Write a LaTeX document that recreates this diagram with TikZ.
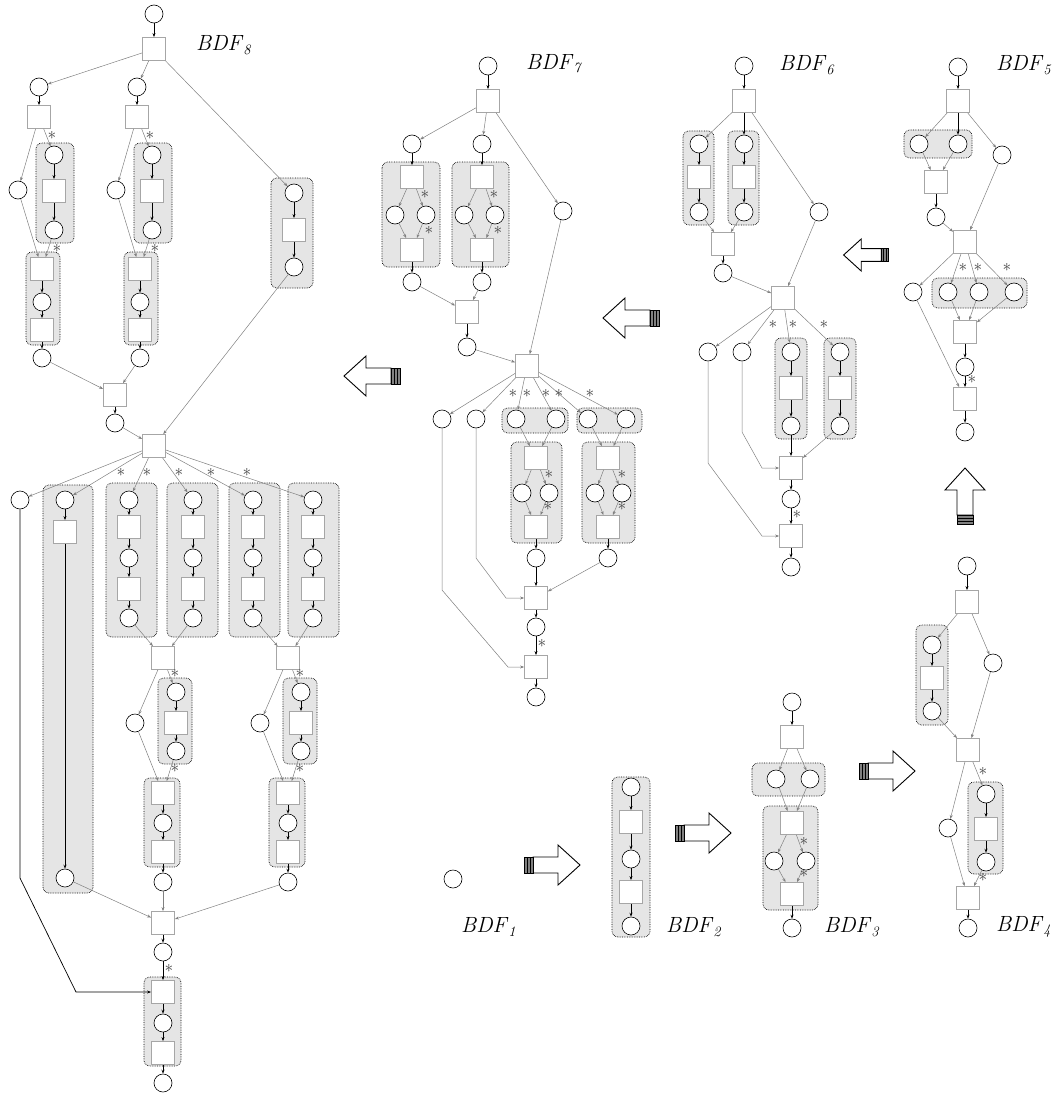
\documentclass[tikz,border=0pt]{standalone}
\usetikzlibrary{arrows.meta}
\tikzset{
  pl/.style={circle, draw=black, line width=0.6pt, fill=white, minimum size=18pt, inner sep=0pt},
  tr/.style={rectangle, draw=gray!70, line width=0.8pt, fill=white, minimum size=23pt, inner sep=0pt},
  grp/.style={draw=black, densely dotted, line width=0.7pt, fill=gray!20, rounded corners=6pt},
  ar/.style={draw=gray, line width=0.5pt, -{Stealth[length=4pt,width=3pt]}},
  bar/.style={draw=black, line width=0.7pt, -{Stealth[length=4pt,width=3pt]}},
  ast/.style={text=gray!50!black, font=\LARGE, inner sep=0pt},
  lbl/.style={anchor=west, font=\fontsize{22}{24}\selectfont, inner sep=0pt},
  fatarrow/.pic={
    \draw[fill=white, line width=0.9pt] (-19,-8) -- (6,-8) -- (6,-20) -- (28,0) -- (6,20) -- (6,8) -- (-19,8) -- cycle;
    \draw[fill=gray, line width=0.6pt] (-28,-8) rectangle (-25,8) (-25,-8) rectangle (-22,8) (-22,-8) rectangle (-19,8);
  }
}
\begin{document}
\begin{tikzpicture}[x=1pt, y=-1pt]
\useasboundingbox (0,0) rectangle (1058,1097);

% BDF1
\node[pl] (p1) at (453,879) {};
\node[lbl] (n1) at (461,927) {\textit{BDF}$_{\mathit{1}}$};
\pic (a1) at (552,865) {fatarrow};

% BDF2
\draw[grp] (612,777) rectangle (650,937);
\node[pl] (p2a) at (631,787) {};
\node[tr] (t2a) at (631,822) {};
\node[pl] (p2b) at (631,859) {};
\node[tr] (t2b) at (631,892) {};
\node[pl] (p2c) at (631,926) {};
\path (p2a) edge[bar] (t2a) (t2a) edge[bar] (p2b) (p2b) edge[bar] (t2b) (t2b) edge[bar] (p2c);
\node[lbl] (n2) at (666,927) {\textit{BDF}$_{\mathit{2}}$};
\pic (a2) at (703,833) {fatarrow};

% BDF3
\draw[grp] (752,763) rectangle (825,796);
\draw[grp] (763,806) rectangle (818,910);
\node[pl] (p3a) at (792,702) {};
\node[tr] (t3a) at (792,737) {};
\node[pl] (p3b) at (776,779) {};
\node[pl] (p3c) at (810,779) {};
\node[tr] (t3b) at (792,823) {};
\node[pl] (p3d) at (774,861) {};
\node[pl] (p3e) at (806,861) {};
\node[tr] (t3c) at (792,894) {};
\node[pl] (p3f) at (792,928) {};
\path (p3a) edge[bar] (t3a) (t3a) edge[ar] (p3b) (t3a) edge[ar] (p3c)
      (p3b) edge[ar] (t3b) (p3c) edge[ar] (t3b) (t3b) edge[ar] (p3d) (t3b) edge[ar] (p3e)
      (p3d) edge[ar] (t3c) (p3e) edge[ar] (t3c) (t3c) edge[bar] (p3f);
\node[ast] (s3a) at (804,841) {$\ast$};
\node[ast] (s3b) at (804,873) {$\ast$};
\node[lbl] (n3) at (824,927) {\textit{BDF}$_{\mathit{3}}$};
\pic (a3) at (887,771) {fatarrow};

% BDF4
\draw[grp] (916,625) rectangle (948,725);
\draw[grp] (968,782) rectangle (1003,874);
\node[pl] (p4a) at (967,566) {};
\node[tr] (t4a) at (967,602) {};
\node[pl] (p4b) at (932,645) {};
\node[tr] (t4b) at (932,678) {};
\node[pl] (p4c) at (932,711) {};
\node[pl] (p4d) at (993,663) {};
\node[tr] (t4c) at (968,750) {};
\node[pl] (p4e) at (948,828) {};
\node[pl] (p4f) at (986,794) {};
\node[tr] (t4d) at (986,829) {};
\node[pl] (p4g) at (986,862) {};
\node[tr] (t4e) at (968,898) {};
\node[pl] (p4h) at (968,928) {};
\path (p4a) edge[bar] (t4a) (t4a) edge[ar] (p4b) (t4a) edge[ar] (p4d)
      (p4b) edge[bar] (t4b) (t4b) edge[bar] (p4c) (p4c) edge[ar] (t4c) (p4d) edge[ar] (t4c)
      (t4c) edge[ar] (p4e) (t4c) edge[ar] (p4f) (p4f) edge[bar] (t4d) (t4d) edge[bar] (p4g)
      (p4g) edge[ar] (t4e) (p4e) edge[ar] (t4e) (t4e) edge[bar] (p4h);
\node[ast] (s4a) at (983,771) {$\ast$};
\node[ast] (s4b) at (983,877) {$\ast$};
\node[lbl] (n4) at (996,927) {\textit{BDF}$_{\mathit{4}}$};
\pic[rotate=90] (a4) at (965,496) {fatarrow};

% BDF5
\draw[grp] (904,130) rectangle (972,158);
\draw[grp] (932,278) rectangle (1027,308);
\node[pl] (p5a) at (958,67) {};
\node[tr] (t5a) at (958,101) {};
\node[pl] (p5b) at (919,144) {};
\node[pl] (p5c) at (958,144) {};
\node[pl] (p5d) at (1002,155) {};
\node[tr] (t5b) at (936,182) {};
\node[pl] (p5e) at (936,217) {};
\node[tr] (t5c) at (965,242) {};
\node[pl] (p5f) at (913,292) {};
\node[pl] (p5g) at (948,292) {};
\node[pl] (p5h) at (979,292) {};
\node[pl] (p5i) at (1014,292) {};
\node[tr] (t5d) at (965,332) {};
\node[pl] (p5j) at (965,367) {};
\node[tr] (t5e) at (965,399) {};
\node[pl] (p5k) at (965,432) {};
\path (p5a) edge[bar] (t5a) (t5a) edge[ar] (p5b) (t5a) edge[bar] (p5c) (t5a) edge[ar] (p5d)
      (p5b) edge[ar] (t5b) (p5c) edge[ar] (t5b) (t5b) edge[bar] (p5e)
      (p5e) edge[ar] (t5c) (p5d) edge[ar] (t5c)
      (t5c) edge[ar] (p5f) (t5c) edge[ar] (p5g) (t5c) edge[ar] (p5h) (t5c) edge[ar] (p5i)
      (p5g) edge[ar] (t5d) (p5h) edge[ar] (t5d) (p5i) edge[ar] (t5d) (t5d) edge[bar] (p5j)
      (p5j) edge[bar] (t5e) (p5f) edge[ar] (t5e) (t5e) edge[bar] (p5k);
\node[ast] (s5a) at (963,267) {$\ast$};
\node[ast] (s5b) at (978,267) {$\ast$};
\node[ast] (s5c) at (1007,267) {$\ast$};
\node[ast] (s5d) at (972,379) {$\ast$};
\node[lbl] (n5) at (996,65) {\textit{BDF}$_{\mathit{5}}$};
\pic[rotate=180, scale=0.8] (a5) at (866,255) {fatarrow};

% BDF6
\draw[grp] (683,131) rectangle (714,225);
\draw[grp] (728,131) rectangle (759,225);
\draw[grp] (775,338) rectangle (807,439);
\draw[grp] (824,338) rectangle (856,439);
\node[pl] (p6a) at (744,66) {};
\node[tr] (t6a) at (744,101) {};
\node[pl] (p6b) at (699,144) {};
\node[tr] (t6b) at (699,177) {};
\node[pl] (p6c) at (699,212) {};
\node[pl] (p6d) at (744,144) {};
\node[tr] (t6c) at (744,177) {};
\node[pl] (p6e) at (744,212) {};
\node[pl] (p6f) at (819,212) {};
\node[tr] (t6d) at (723,244) {};
\node[pl] (p6g) at (723,273) {};
\node[tr] (t6e) at (783,298) {};
\node[pl] (p6h) at (708,352) {};
\node[pl] (p6i) at (742,352) {};
\node[pl] (p6j) at (791,352) {};
\node[tr] (t6f) at (791,388) {};
\node[pl] (p6k) at (791,426) {};
\node[pl] (p6l) at (840,352) {};
\node[tr] (t6g) at (840,388) {};
\node[pl] (p6m) at (840,426) {};
\node[tr] (t6h) at (791,468) {};
\node[pl] (p6n) at (791,499) {};
\node[tr] (t6i) at (791,536) {};
\node[pl] (p6o) at (791,567) {};
\path (p6a) edge[bar] (t6a) (t6a) edge[ar] (p6b) (t6a) edge[bar] (p6d) (t6a) edge[ar] (p6f)
      (p6b) edge[bar] (t6b) (t6b) edge[bar] (p6c) (p6d) edge[bar] (t6c) (t6c) edge[bar] (p6e)
      (p6c) edge[ar] (t6d) (p6e) edge[ar] (t6d) (t6d) edge[bar] (p6g)
      (p6g) edge[ar] (t6e) (p6f) edge[ar] (t6e)
      (t6e) edge[ar] (p6h) (t6e) edge[ar] (p6i) (t6e) edge[ar] (p6j) (t6e) edge[ar] (p6l)
      (p6j) edge[bar] (t6f) (t6f) edge[bar] (p6k) (p6l) edge[bar] (t6g) (t6g) edge[bar] (p6m)
      (p6k) edge[bar] (t6h) (p6m) edge[ar] (t6h) (t6h) edge[bar] (p6n)
      (p6n) edge[bar] (t6i) (t6i) edge[bar] (p6o);
\draw[ar] (p6h) -- (708,463) -- (762,536) -- (t6i);
\draw[ar] (p6i) -- (742,432) -- (762,468) -- (t6h);
\node[ast] (s6a) at (773,324) {$\ast$};
\node[ast] (s6b) at (793,324) {$\ast$};
\node[ast] (s6c) at (824,324) {$\ast$};
\node[ast] (s6d) at (797,514) {$\ast$};
\node[lbl] (n6) at (779,65) {\textit{BDF}$_{\mathit{6}}$};
\pic[rotate=180] (a6) at (631,318) {fatarrow};

% BDF7
\draw[grp] (382,162) rectangle (440,267);
\draw[grp] (452,162) rectangle (509,267);
\draw[grp] (502,408) rectangle (568,433);
\draw[grp] (577,408) rectangle (642,433);
\draw[grp] (511,442) rectangle (562,543);
\draw[grp] (582,442) rectangle (635,543);
\node[pl] (p7a) at (488,66) {};
\node[tr] (t7a) at (488,101) {};
\node[pl] (p7b) at (412,144) {};
\node[pl] (p7c) at (482,144) {};
\node[pl] (p7d) at (563,211) {};
\node[tr] (t7b) at (412,177) {};
\node[pl] (p7e) at (395,215) {};
\node[pl] (p7f) at (426,215) {};
\node[tr] (t7c) at (412,250) {};
\node[pl] (p7g) at (412,282) {};
\node[tr] (t7d) at (482,177) {};
\node[pl] (p7h) at (464,215) {};
\node[pl] (p7i) at (495,215) {};
\node[tr] (t7e) at (482,250) {};
\node[pl] (p7j) at (482,282) {};
\node[tr] (t7f) at (467,312) {};
\node[pl] (p7k) at (467,347) {};
\node[tr] (t7g) at (527,366) {};
\node[pl] (p7l) at (442,419) {};
\node[pl] (p7m) at (476,419) {};
\node[pl] (p7n) at (516,419) {};
\node[pl] (p7o) at (556,419) {};
\node[pl] (p7p) at (588,419) {};
\node[pl] (p7q) at (626,419) {};
\node[tr] (t7h) at (536,458) {};
\node[pl] (p7r) at (522,493) {};
\node[pl] (p7s) at (549,493) {};
\node[tr] (t7i) at (536,527) {};
\node[pl] (p7t) at (536,558) {};
\node[tr] (t7j) at (608,458) {};
\node[pl] (p7u) at (595,493) {};
\node[pl] (p7v) at (622,493) {};
\node[tr] (t7k) at (608,527) {};
\node[pl] (p7w) at (608,558) {};
\node[tr] (t7l) at (536,598) {};
\node[pl] (p7x) at (536,627) {};
\node[tr] (t7m) at (536,667) {};
\node[pl] (p7y) at (536,697) {};
\path (p7a) edge[bar] (t7a) (t7a) edge[ar] (p7b) (t7a) edge[ar] (p7c) (t7a) edge[ar] (p7d)
      (p7b) edge[bar] (t7b) (t7b) edge[ar] (p7e) (t7b) edge[ar] (p7f)
      (p7e) edge[ar] (t7c) (p7f) edge[ar] (t7c) (t7c) edge[bar] (p7g)
      (p7c) edge[bar] (t7d) (t7d) edge[ar] (p7h) (t7d) edge[ar] (p7i)
      (p7h) edge[ar] (t7e) (p7i) edge[ar] (t7e) (t7e) edge[bar] (p7j)
      (p7g) edge[ar] (t7f) (p7j) edge[ar] (t7f) (t7f) edge[bar] (p7k)
      (p7k) edge[ar] (t7g) (p7d) edge[ar] (t7g)
      (t7g) edge[ar] (p7l) (t7g) edge[ar] (p7m) (t7g) edge[ar] (p7n)
      (t7g) edge[ar] (p7o) (t7g) edge[ar] (p7p) (t7g) edge[ar] (p7q)
      (p7n) edge[ar] (t7h) (p7o) edge[ar] (t7h) (t7h) edge[ar] (p7r) (t7h) edge[ar] (p7s)
      (p7r) edge[ar] (t7i) (p7s) edge[ar] (t7i) (t7i) edge[bar] (p7t)
      (p7p) edge[ar] (t7j) (p7q) edge[ar] (t7j) (t7j) edge[ar] (p7u) (t7j) edge[ar] (p7v)
      (p7u) edge[ar] (t7k) (p7v) edge[ar] (t7k) (t7k) edge[bar] (p7w)
      (p7t) edge[bar] (t7l) (p7w) edge[ar] (t7l) (t7l) edge[bar] (p7x)
      (p7x) edge[bar] (t7m) (t7m) edge[bar] (p7y);
\draw[ar] (p7l) -- (442,590) -- (508,667) -- (t7m);
\draw[ar] (p7m) -- (476,558) -- (506,598) -- (t7l);
\node[ast] (s7a) at (425,194) {$\ast$};
\node[ast] (s7b) at (429,230) {$\ast$};
\node[ast] (s7c) at (494,194) {$\ast$};
\node[ast] (s7d) at (498,230) {$\ast$};
\node[ast] (s7e) at (513,393) {$\ast$};
\node[ast] (s7f) at (527,393) {$\ast$};
\node[ast] (s7g) at (546,393) {$\ast$};
\node[ast] (s7h) at (559,393) {$\ast$};
\node[ast] (s7i) at (590,393) {$\ast$};
\node[ast] (s7j) at (549,474) {$\ast$};
\node[ast] (s7k) at (548,506) {$\ast$};
\node[ast] (s7l) at (622,474) {$\ast$};
\node[ast] (s7m) at (622,506) {$\ast$};
\node[ast] (s7n) at (542,643) {$\ast$};
\node[lbl] (n7) at (526,65) {\textit{BDF}$_{\mathit{7}}$};
\pic[rotate=180] (a7) at (372,376) {fatarrow};

% BDF8
\draw[grp] (36,143) rectangle (74,243);
\draw[grp] (26,252) rectangle (60,345);
\draw[grp] (134,143) rectangle (172,243);
\draw[grp] (124,252) rectangle (158,345);
\draw[grp] (271,178) rectangle (313,288);
\draw[grp] (43,485) rectangle (93,893);
\draw[grp] (106,483) rectangle (157,637);
\draw[grp] (167,483) rectangle (218,637);
\draw[grp] (229,483) rectangle (280,637);
\draw[grp] (288,483) rectangle (339,637);
\draw[grp] (158,678) rectangle (192,764);
\draw[grp] (144,778) rectangle (180,867);
\draw[grp] (283,678) rectangle (317,764);
\draw[grp] (269,778) rectangle (305,867);
\draw[grp] (144,977) rectangle (181,1066);
\node[pl] (p8a) at (154,14) {};
\node[tr] (t8a) at (154,49) {};
\node[pl] (p8b) at (39,87) {};
\node[pl] (p8c) at (137,87) {};
\node[tr] (t8b) at (39,117) {};
\node[tr] (t8c) at (137,117) {};
\node[pl] (p8d) at (18,190) {};
\node[pl] (p8e) at (54,155) {};
\node[tr] (t8d) at (54,191) {};
\node[pl] (p8f) at (54,230) {};
\node[tr] (t8e) at (42,269) {};
\node[pl] (p8g) at (42,302) {};
\node[tr] (t8f) at (42,330) {};
\node[pl] (p8h) at (42,358) {};
\node[pl] (p8i) at (116,190) {};
\node[pl] (p8j) at (152,155) {};
\node[tr] (t8g) at (152,191) {};
\node[pl] (p8k) at (152,230) {};
\node[tr] (t8h) at (140,269) {};
\node[pl] (p8l) at (140,302) {};
\node[tr] (t8i) at (140,330) {};
\node[pl] (p8m) at (140,358) {};
\node[pl] (p8n) at (294,193) {};
\node[tr] (t8j) at (294,230) {};
\node[pl] (p8o) at (294,267) {};
\node[tr] (t8k) at (115,395) {};
\node[pl] (p8p) at (115,423) {};
\node[tr] (t8l) at (154,446) {};
\node[pl] (p8q) at (20,500) {};
\node[pl] (p8r) at (65,500) {};
\node[tr] (t8m) at (65,532) {};
\node[pl] (p8s) at (65,878) {};
\node[pl] (c1a) at (129,500) {};
\node[tr] (c1b) at (129,527) {};
\node[pl] (c1c) at (129,558) {};
\node[tr] (c1d) at (129,589) {};
\node[pl] (c1e) at (129,618) {};
\node[pl] (c2a) at (193,500) {};
\node[tr] (c2b) at (193,527) {};
\node[pl] (c2c) at (193,558) {};
\node[tr] (c2d) at (193,589) {};
\node[pl] (c2e) at (193,618) {};
\node[pl] (c3a) at (253,500) {};
\node[tr] (c3b) at (253,527) {};
\node[pl] (c3c) at (253,558) {};
\node[tr] (c3d) at (253,589) {};
\node[pl] (c3e) at (253,618) {};
\node[pl] (c4a) at (313,500) {};
\node[tr] (c4b) at (313,527) {};
\node[pl] (c4c) at (313,558) {};
\node[tr] (c4d) at (313,589) {};
\node[pl] (c4e) at (313,618) {};
\node[tr] (t8n) at (163,658) {};
\node[tr] (t8o) at (288,658) {};
\node[pl] (p8u) at (135,723) {};
\node[pl] (p8v) at (176,692) {};
\node[tr] (t8p) at (176,723) {};
\node[pl] (p8w) at (176,751) {};
\node[tr] (t8q) at (163,793) {};
\node[pl] (p8x) at (163,823) {};
\node[tr] (t8r) at (163,852) {};
\node[pl] (p8y) at (163,882) {};
\node[pl] (p8z) at (260,723) {};
\node[pl] (q8a) at (301,692) {};
\node[tr] (t8s) at (301,723) {};
\node[pl] (q8b) at (301,751) {};
\node[tr] (t8t) at (288,793) {};
\node[pl] (q8c) at (288,823) {};
\node[tr] (t8u) at (288,852) {};
\node[pl] (q8d) at (288,882) {};
\node[tr] (t8v) at (163,923) {};
\node[pl] (q8e) at (163,952) {};
\node[tr] (t8w) at (163,992) {};
\node[pl] (q8f) at (163,1023) {};
\node[tr] (t8x) at (163,1053) {};
\node[pl] (q8g) at (163,1083) {};
\path (p8a) edge[bar] (t8a) (t8a) edge[ar] (p8b) (t8a) edge[ar] (p8c) (t8a) edge[ar] (p8n)
      (p8b) edge[bar] (t8b) (t8b) edge[ar] (p8d) (t8b) edge[ar] (p8e)
      (p8e) edge[bar] (t8d) (t8d) edge[bar] (p8f) (p8f) edge[ar] (t8e) (p8d) edge[ar] (t8e)
      (t8e) edge[bar] (p8g) (p8g) edge[bar] (t8f) (t8f) edge[bar] (p8h)
      (p8c) edge[bar] (t8c) (t8c) edge[ar] (p8i) (t8c) edge[ar] (p8j)
      (p8j) edge[bar] (t8g) (t8g) edge[bar] (p8k) (p8k) edge[ar] (t8h) (p8i) edge[ar] (t8h)
      (t8h) edge[bar] (p8l) (p8l) edge[bar] (t8i) (t8i) edge[bar] (p8m)
      (p8n) edge[bar] (t8j) (t8j) edge[bar] (p8o)
      (p8h) edge[ar] (t8k) (p8m) edge[ar] (t8k) (t8k) edge[bar] (p8p)
      (p8p) edge[ar] (t8l) (p8o) edge[ar] (t8l)
      (t8l) edge[ar] (p8q) (t8l) edge[ar] (p8r) (t8l) edge[ar] (c1a)
      (t8l) edge[ar] (c2a) (t8l) edge[ar] (c3a) (t8l) edge[ar] (c4a)
      (p8r) edge[bar] (t8m) (t8m) edge[bar] (p8s)
      (c1a) edge[bar] (c1b) (c1b) edge[bar] (c1c) (c1c) edge[bar] (c1d) (c1d) edge[bar] (c1e)
      (c2a) edge[bar] (c2b) (c2b) edge[bar] (c2c) (c2c) edge[bar] (c2d) (c2d) edge[bar] (c2e)
      (c3a) edge[bar] (c3b) (c3b) edge[bar] (c3c) (c3c) edge[bar] (c3d) (c3d) edge[bar] (c3e)
      (c4a) edge[bar] (c4b) (c4b) edge[bar] (c4c) (c4c) edge[bar] (c4d) (c4d) edge[bar] (c4e)
      (c1e) edge[ar] (t8n) (c2e) edge[ar] (t8n) (c3e) edge[ar] (t8o) (c4e) edge[ar] (t8o)
      (t8n) edge[ar] (p8u) (t8n) edge[ar] (p8v) (p8v) edge[bar] (t8p) (t8p) edge[bar] (p8w)
      (p8w) edge[ar] (t8q) (p8u) edge[ar] (t8q)
      (t8q) edge[bar] (p8x) (p8x) edge[bar] (t8r) (t8r) edge[bar] (p8y)
      (t8o) edge[ar] (p8z) (t8o) edge[ar] (q8a) (q8a) edge[bar] (t8s) (t8s) edge[bar] (q8b)
      (q8b) edge[ar] (t8t) (p8z) edge[ar] (t8t)
      (t8t) edge[bar] (q8c) (q8c) edge[bar] (t8u) (t8u) edge[bar] (q8d)
      (p8s) edge[ar] (t8v) (p8y) edge[ar] (t8v) (q8d) edge[ar] (t8v)
      (t8v) edge[bar] (q8e) (q8e) edge[bar] (t8w) (t8w) edge[bar] (q8f)
      (q8f) edge[bar] (t8x) (t8x) edge[bar] (q8g);
\draw[bar] (p8q) -- (20,878) -- (76,992) -- (t8w);
\node[ast] (s8a) at (52,135) {$\ast$};
\node[ast] (s8b) at (57,248) {$\ast$};
\node[ast] (s8c) at (150,135) {$\ast$};
\node[ast] (s8d) at (155,248) {$\ast$};
\node[ast] (s8e) at (121,472) {$\ast$};
\node[ast] (s8f) at (147,472) {$\ast$};
\node[ast] (s8g) at (179,472) {$\ast$};
\node[ast] (s8h) at (211,472) {$\ast$};
\node[ast] (s8i) at (247,472) {$\ast$};
\node[ast] (s8j) at (175,673) {$\ast$};
\node[ast] (s8k) at (175,768) {$\ast$};
\node[ast] (s8l) at (300,673) {$\ast$};
\node[ast] (s8m) at (300,768) {$\ast$};
\node[ast] (s8n) at (169,968) {$\ast$};
\node[lbl] (n8) at (196,45) {\textit{BDF}$_{\mathit{8}}$};
\end{tikzpicture}
\end{document}
